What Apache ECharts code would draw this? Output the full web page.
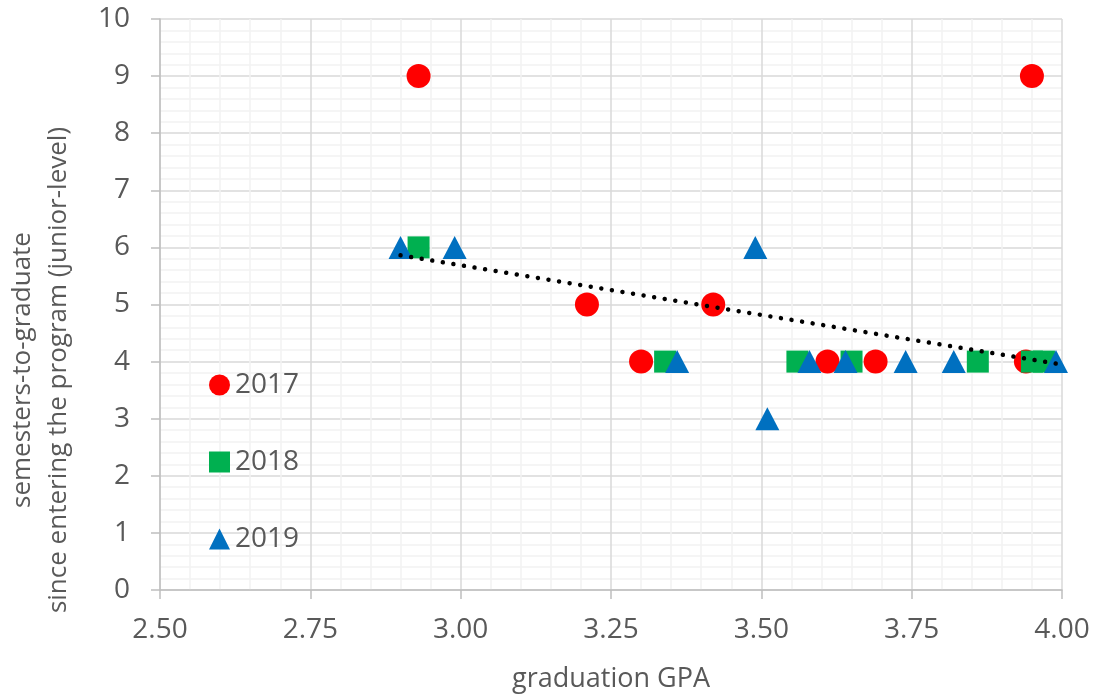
<!DOCTYPE html>
<html>
<head>
<meta charset="utf-8">
<script src="https://cdn.jsdelivr.net/npm/echarts@6/dist/echarts.min.js"></script>
<style>
  html, body { margin: 0; padding: 0; background: #fff; }
  #chart { width: 1094px; height: 698px; }
</style>
</head>
<body>
<div id="chart"></div>
<script>
// Graduation GPA vs. semesters-to-graduate, one scatter series per cohort year
const gpa2017 = [2.93, 3.95, 3.21, 3.42, 3.30, 3.61, 3.69, 3.94];
const sem2017 = [9, 9, 5, 5, 4, 4, 4, 4];

const gpa2018 = [2.93, 3.34, 3.56, 3.65, 3.86, 3.95, 3.97];
const sem2018 = [6, 4, 4, 4, 4, 4, 4];

const gpa2019 = [2.90, 2.99, 3.36, 3.49, 3.51, 3.58, 3.64, 3.74, 3.82, 3.99];
const sem2019 = [6, 6, 4, 6, 3, 4, 4, 4, 4, 4];

const years = ['2017', '2018', '2019'];
const xTicks = [2.50, 2.75, 3.00, 3.25, 3.50, 3.75, 4.00];
const yTitle = 'semesters-to-graduate\nsince entering the program (junior-level)';
const xTitle = 'graduation GPA';

const FONT = '"Open Sans", "Noto Sans", sans-serif';
const TEXT = '#595959';

function pairs(xs, ys) { return xs.map((x, i) => [x, ys[i]]); }

// least-squares linear trend over all cohorts
function linearTrend(xs, ys) {
  const n = xs.length;
  const mx = xs.reduce((a, b) => a + b, 0) / n;
  const my = ys.reduce((a, b) => a + b, 0) / n;
  let sxy = 0, sxx = 0;
  for (let i = 0; i < n; i++) {
    sxy += (xs[i] - mx) * (ys[i] - my);
    sxx += (xs[i] - mx) * (xs[i] - mx);
  }
  const slope = sxy / sxx;
  const x0 = Math.min(...xs), x1 = Math.max(...xs);
  return [[x0, my + slope * (x0 - mx)], [x1, my + slope * (x1 - mx)]];
}
const allGpa = gpa2017.concat(gpa2018, gpa2019);
const allSem = sem2017.concat(sem2018, sem2019);
const trend = linearTrend(allGpa, allSem);

const chart = echarts.init(document.getElementById('chart'), null, { renderer: 'canvas' });

chart.setOption({
  animation: false,
  backgroundColor: '#ffffff',
  textStyle: { fontFamily: FONT },
  grid: { left: 160, right: 32, top: 19, bottom: 106, containLabel: false },
  legend: {
    orient: 'vertical',
    left: 204,
    top: 366,
    itemWidth: 21,
    itemHeight: 21,
    itemGap: 49,
    textStyle: { fontFamily: FONT, fontSize: 28, color: TEXT, lineHeight: 28 },
    data: [
      { name: years[0], icon: 'circle' },
      { name: years[1], icon: 'rect' },
      { name: years[2], icon: 'triangle' }
    ]
  },
  // vertical two-line axis title, centred a little below the plot middle
  graphic: [{
    type: 'text',
    x: 41,
    y: 370,
    rotation: Math.PI / 2,
    silent: true,
    style: {
      text: yTitle,
      align: 'center',
      verticalAlign: 'middle',
      fontFamily: FONT,
      fontSize: 26,
      lineHeight: 36,
      fill: TEXT
    }
  }],
  xAxis: {
    type: 'value',
    min: 2.5,
    max: 4.0,
    interval: 0.25,
    name: xTitle,
    nameLocation: 'middle',
    nameGap: 76,
    nameTextStyle: { fontFamily: FONT, fontSize: 27, color: TEXT },
    axisLine: { show: true, onZero: false, lineStyle: { color: '#bfbfbf', width: 1.5 } },
    axisTick: { show: true, inside: false, length: 9, lineStyle: { color: '#bfbfbf', width: 1.5 } },
    axisLabel: {
      margin: 26,
      fontFamily: FONT, fontSize: 28, color: TEXT,
      formatter: v => (xTicks.find(t => Math.abs(t - v) < 1e-9) ?? v).toFixed(2)
    },
    splitLine: { show: true, lineStyle: { color: '#d9d9d9', width: 1.5 } },
    minorTick: { show: false, splitNumber: 5 },
    minorSplitLine: { show: true, lineStyle: { color: '#f2f2f2', width: 1.5 } }
  },
  yAxis: {
    type: 'value',
    min: 0,
    max: 10,
    interval: 1,
    axisLine: { show: true, lineStyle: { color: '#bfbfbf', width: 1.5 } },
    axisTick: { show: true, inside: false, length: 9, lineStyle: { color: '#bfbfbf', width: 1.5 } },
    axisLabel: { margin: 30, fontFamily: FONT, fontSize: 28, color: TEXT },
    splitLine: { show: true, lineStyle: { color: '#d9d9d9', width: 1.5 } },
    minorTick: { show: false, splitNumber: 5 },
    minorSplitLine: { show: true, lineStyle: { color: '#f2f2f2', width: 1.5 } }
  },
  series: [
    {
      name: years[0], type: 'scatter', symbol: 'circle', symbolSize: 24,
      itemStyle: { color: '#ff0000', opacity: 1 },
      data: pairs(gpa2017, sem2017), z: 3
    },
    {
      name: years[1], type: 'scatter', symbol: 'rect', symbolSize: 22,
      itemStyle: { color: '#00b050', opacity: 1 },
      data: pairs(gpa2018, sem2018), z: 4
    },
    {
      name: years[2], type: 'scatter', symbol: 'triangle', symbolSize: [24, 23],
      itemStyle: { color: '#0070c0', opacity: 1 },
      data: pairs(gpa2019, sem2019), z: 5
    },
    {
      name: 'trend', type: 'line', showSymbol: false, symbol: 'none',
      data: trend, z: 6, silent: true,
      lineStyle: { color: '#000000', width: 4.5, type: [0.01, 10.7], cap: 'round' }
    }
  ]
});
</script>
</body>
</html>
